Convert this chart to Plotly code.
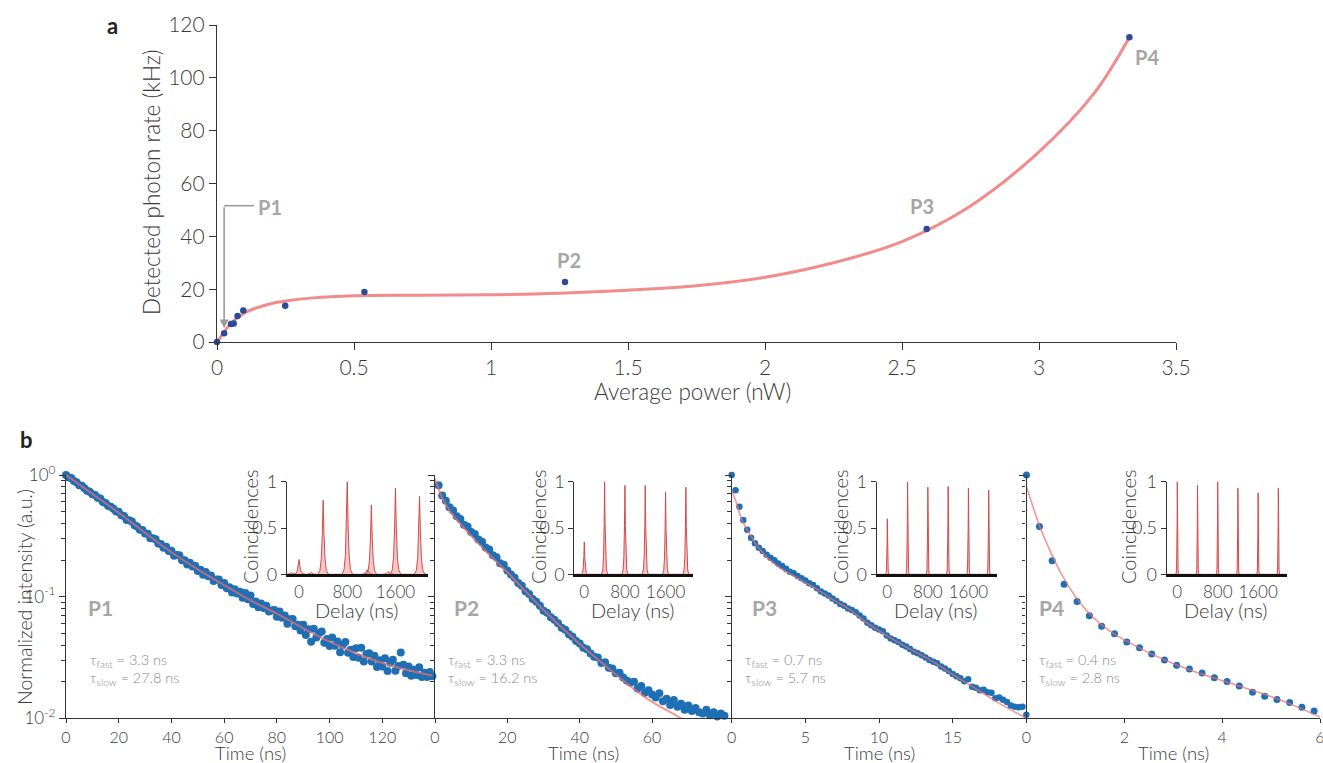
import numpy as np
import plotly.graph_objects as go

# ---------------- Panel a: detected photon rate vs average power ----------------
power_nw = [0.0, 0.026, 0.051, 0.061, 0.075, 0.096, 0.249, 0.538, 1.27, 2.59, 3.33]
rate_khz = [0.0, 3.3, 6.8, 7.0, 9.8, 11.9, 13.7, 18.9, 22.7, 42.8, 115.4]
fit_power_nw = [0, 0.025, 0.05, 0.1, 0.15, 0.2, 0.25, 0.35, 0.5, 0.75, 1.0, 1.25, 1.5,
                1.75, 2.0, 2.25, 2.5, 2.75, 3.0, 3.2, 3.33]
fit_rate_khz = [0, 3.6, 7.0, 11.0, 13.1, 14.6, 15.5, 16.7, 17.5, 17.7, 17.9, 18.5, 19.6,
                21.3, 24.5, 30.0, 38.0, 51.5, 72.0, 94.0, 115.4]
power_ticks = [0, 0.5, 1, 1.5, 2, 2.5, 3, 3.5]
rate_ticks = [0, 20, 40, 60, 80, 100, 120]

# ---------------- Panel b: decays (log10 of normalized intensity) ----------------
p1_time_ns = list(range(140))
p1_log10_intensity = [
    0.0, -0.020, -0.025, -0.050, -0.060, -0.084, -0.089, -0.108, -0.129, -0.137,
    -0.159, -0.165, -0.188, -0.194, -0.222, -0.230, -0.255, -0.260, -0.277, -0.301,
    -0.302, -0.330, -0.338, -0.369, -0.372, -0.383, -0.413, -0.424, -0.450, -0.453,
    -0.481, -0.482, -0.519, -0.519, -0.528, -0.563, -0.568, -0.597, -0.589, -0.624,
    -0.623, -0.664, -0.657, -0.659, -0.701, -0.701, -0.736, -0.722, -0.753, -0.746,
    -0.789, -0.778, -0.821, -0.798, -0.832, -0.827, -0.871, -0.859, -0.859, -0.904,
    -0.887, -0.930, -0.922, -0.965, -0.940, -0.974, -0.960, -1.009, -0.970, -1.022,
    -0.990, -1.061, -1.040, -1.088, -1.056, -1.093, -1.074, -1.122, -1.113, -1.109,
    -1.165, -1.122, -1.174, -1.154, -1.223, -1.185, -1.184, -1.244, -1.231, -1.278,
    -1.230, -1.316, -1.267, -1.370, -1.264, -1.335, -1.301, -1.287, -1.378, -1.349,
    -1.405, -1.335, -1.404, -1.369, -1.458, -1.398, -1.372, -1.462, -1.436, -1.496,
    -1.425, -1.503, -1.421, -1.534, -1.472, -1.465, -1.533, -1.486, -1.579, -1.522,
    -1.575, -1.506, -1.612, -1.543, -1.519, -1.610, -1.571, -1.460, -1.560, -1.630,
    -1.575, -1.650, -1.600, -1.645, -1.580, -1.660, -1.625, -1.660, -1.620, -1.655]
p1_fit_time_ns = [0, 10, 20, 30, 40, 50, 60, 70, 80, 90, 100, 110, 120, 130, 139]
p1_fit_log10 = [0, -0.155, -0.31, -0.475, -0.635, -0.775, -0.905, -1.03, -1.14, -1.26,
                -1.37, -1.465, -1.545, -1.605, -1.65]

p2_time_ns = list(range(81))
p2_log10_intensity = [
    0.005, -0.085, -0.168, -0.212, -0.265, -0.292, -0.340, -0.362, -0.408, -0.424,
    -0.468, -0.485, -0.531, -0.548, -0.595, -0.612, -0.660, -0.676, -0.725, -0.738,
    -0.785, -0.818, -0.845, -0.888, -0.910, -0.955, -0.978, -1.020, -1.042, -1.075,
    -1.115, -1.132, -1.170, -1.190, -1.218, -1.255, -1.272, -1.310, -1.330, -1.365,
    -1.385, -1.420, -1.433, -1.468, -1.495, -1.500, -1.545, -1.540, -1.585, -1.590,
    -1.630, -1.625, -1.665, -1.690, -1.705, -1.700, -1.755, -1.735, -1.790, -1.770,
    -1.805, -1.830, -1.795, -1.860, -1.840, -1.890, -1.850, -1.905, -1.880, -1.930,
    -1.895, -1.940, -1.915, -1.950, -1.960, -1.930, -1.975, -1.950, -1.985, -1.960,
    -1.980]
p2_fit_time_ns = [0, 2, 5, 10, 15, 20, 25, 30, 40, 50, 55, 60, 65, 68]
p2_fit_log10 = [-0.03, -0.19, -0.33, -0.50, -0.655, -0.80, -0.955, -1.11, -1.39, -1.64,
                -1.76, -1.865, -1.95, -2.0]

p3_time_step_ns = 0.263
p3_log10_intensity = [
    0.0, -0.125, -0.262, -0.37, -0.45, -0.515, -0.562, -0.598, -0.625, -0.655,
    -0.68, -0.70, -0.728, -0.748, -0.77, -0.795, -0.808, -0.83, -0.848, -0.868,
    -0.89, -0.905, -0.93, -0.958, -0.975, -0.99, -1.015, -1.035, -1.06, -1.075,
    -1.098, -1.11, -1.128, -1.155, -1.18, -1.215, -1.235, -1.255, -1.27, -1.285,
    -1.32, -1.345, -1.358, -1.372, -1.395, -1.41, -1.43, -1.452, -1.465, -1.482,
    -1.50, -1.52, -1.535, -1.548, -1.575, -1.59, -1.612, -1.635, -1.655, -1.67,
    -1.695, -1.678, -1.74, -1.748, -1.77, -1.765, -1.785, -1.79, -1.835, -1.83,
    -1.848, -1.865, -1.895, -1.905, -1.91, -1.905, -1.97]
p3_time_ns = [round(p3_time_step_ns * k, 3) for k in range(len(p3_log10_intensity))]
p3_fit_time_ns = [0, 0.3, 0.6, 0.9, 1.2, 1.6, 2, 3, 4, 5, 6, 7, 8, 9, 10, 11, 12, 13,
                  14, 15, 16, 17, 18, 19, 20]
p3_fit_log10 = [-0.13, -0.22, -0.34, -0.42, -0.48, -0.56, -0.625, -0.74, -0.815, -0.885,
                -0.955, -1.035, -1.105, -1.2, -1.28, -1.355, -1.425, -1.49, -1.56, -1.64,
                -1.715, -1.79, -1.865, -1.935, -2.0]

p4_time_ns = [0, 0.265, 0.524, 0.769, 1.034, 1.286, 1.537, 1.80, 2.05, 2.31, 2.56, 2.82,
              3.07, 3.33, 3.59, 3.84, 4.10, 4.35, 4.62, 4.87, 5.12, 5.38, 5.63, 5.88]
p4_log10_intensity = [0.0, -0.424, -0.704, -0.898, -1.04, -1.156, -1.244, -1.304, -1.372,
                      -1.421, -1.471, -1.52, -1.564, -1.594, -1.627, -1.666, -1.698, -1.734,
                      -1.786, -1.818, -1.846, -1.871, -1.909, -1.939]
p4_fit_time_ns = [0, 0.25, 0.5, 0.75, 1, 1.25, 1.5, 1.75, 2, 2.5, 3, 3.5, 4, 4.5, 5, 5.5, 6]
p4_fit_log10 = [-0.096, -0.40, -0.64, -0.84, -1.0, -1.125, -1.22, -1.295, -1.355, -1.46,
                -1.55, -1.625, -1.69, -1.755, -1.82, -1.90, -1.99]

tau_fast_ns = [3.3, 3.3, 0.7, 0.4]
tau_slow_ns = [27.8, 16.2, 5.7, 2.8]
panel_names = ["P1", "P2", "P3", "P4"]
time_ranges = [[0, 140], [0, 82], [0, 20], [0, 6]]
time_ticks = [[0, 20, 40, 60, 80, 100, 120], [0, 20, 40, 60], [0, 5, 10, 15], [0, 2, 4, 6]]

# ---------------- Insets: coincidence histograms ----------------
peak_delay_ns = [0, 400, 800, 1200, 1600, 2000]
p1_peak_heights = [0.16, 0.80, 1.0, 0.75, 0.93, 0.84]
p2_peak_heights = [0.35, 1.0, 0.96, 0.96, 0.89, 0.94]
p3_peak_heights = [0.60, 1.0, 0.94, 0.95, 0.93, 0.91]
p4_peak_heights = [1.0, 0.96, 1.0, 0.93, 0.88, 0.93]
p1_bump_delay_ns = [-130, 200, 1130, 1480]
p1_bump_heights = [0.02, 0.02, 0.05, 0.03]
delay_ticks = [0, 800, 1600]
coinc_ticks = [0, 0.5, 1]

# ---------------- style / layout constants ----------------
W, H = 1323, 763
FONT = "Lato"
TXT = "#3a3a3a"
AX = "#333333"
GREY = "#a6a6a6"
BLUE_A = "#2d4b9b"
BLUE_B = "#1f6fb5"
FIT_A = "#f28b8b"
FIT_B = "rgba(238,110,110,0.72)"
PEAK_LINE = "#d24a4a"
PEAK_FILL = "rgba(232,128,128,0.45)"
PEAK_OFFSETS = [-1, -0.6, -0.35, -0.15, 0, 0.15, 0.35, 0.6, 1]
PEAK_RATIOS = [0, 0.05, 0.2, 0.55, 1, 0.55, 0.2, 0.05, 0]
peak_widths = [90, 60, 30, 25]


def fx(px):
    return px / W


def fy(py):
    return 1 - py / H


def peaks_xy(centers, heights, width, xr):
    xs, ys = [xr[0]], [0]
    for c, h in sorted(zip(centers, heights)):
        for o, r in zip(PEAK_OFFSETS, PEAK_RATIOS):
            xs.append(c + o * width)
            ys.append(h * r)
    xs.append(xr[1])
    ys.append(0)
    return xs, ys


fig = go.Figure()

# panel a
fig.add_trace(go.Scatter(x=fit_power_nw, y=fit_rate_khz, mode="lines",
                         line=dict(color=FIT_A, width=3, shape="spline", smoothing=1.0),
                         xaxis="x", yaxis="y", cliponaxis=False, showlegend=False))
fig.add_trace(go.Scatter(x=power_nw, y=rate_khz, mode="markers",
                         marker=dict(color=BLUE_A, size=6.5),
                         xaxis="x", yaxis="y", cliponaxis=False, showlegend=False))

# panel b main decays
decay_t = [p1_time_ns, p2_time_ns, p3_time_ns, p4_time_ns]
decay_l = [p1_log10_intensity, p2_log10_intensity, p3_log10_intensity, p4_log10_intensity]
fit_t = [p1_fit_time_ns, p2_fit_time_ns, p3_fit_time_ns, p4_fit_time_ns]
fit_l = [p1_fit_log10, p2_fit_log10, p3_fit_log10, p4_fit_log10]
msize = [8, 8, 6.5, 7]
fitw = [2, 2, 1.6, 1.6]
for i in range(4):
    xa, ya = "x%d" % (i + 2), "y%d" % (i + 2)
    fig.add_trace(go.Scatter(x=decay_t[i], y=np.power(10.0, decay_l[i]), mode="markers",
                             marker=dict(color=BLUE_B, size=msize[i]),
                             xaxis=xa, yaxis=ya, cliponaxis=False, showlegend=False))
    fig.add_trace(go.Scatter(x=fit_t[i], y=np.power(10.0, fit_l[i]), mode="lines",
                             line=dict(color=FIT_B, width=fitw[i], shape="spline", smoothing=0.6),
                             xaxis=xa, yaxis=ya, cliponaxis=True, showlegend=False))

# insets
inset_heights = [p1_peak_heights, p2_peak_heights, p3_peak_heights, p4_peak_heights]
inset_ranges = [[-200, 2140], [-197, 2146], [-209, 2158], [-210, 2166]]
for i in range(4):
    xa, ya = "x%d" % (i + 6), "y%d" % (i + 6)
    cs = list(peak_delay_ns)
    hs = list(inset_heights[i])
    if i == 0:
        cs += p1_bump_delay_ns
        hs += p1_bump_heights
    xs, ys = peaks_xy(cs, hs, peak_widths[i], inset_ranges[i])
    fig.add_trace(go.Scatter(x=xs, y=ys, mode="lines", fill="tozeroy", fillcolor=PEAK_FILL,
                             line=dict(color=PEAK_LINE, width=1),
                             xaxis=xa, yaxis=ya, cliponaxis=False, showlegend=False))

axis_base = dict(showline=True, linecolor=AX, linewidth=1.2, ticks="outside", tickcolor=AX,
                 tickwidth=1.2, showgrid=False, zeroline=False, automargin=False,
                 fixedrange=True, ticklabeloverflow="allow")

layout = dict(
    width=W, height=H, autosize=False,
    margin=dict(l=0, r=0, t=0, b=0, pad=0),
    paper_bgcolor="white", plot_bgcolor="rgba(0,0,0,0)",
    font=dict(family=FONT, color=TXT, size=16, weight=300),
    template="none",
    showlegend=False,
)

# panel a axes
layout["xaxis"] = dict(axis_base, domain=[fx(217), fx(1176)], range=[0, 3.5], anchor="y",
                       tickmode="array", tickvals=power_ticks, ticklen=7,
                       tickfont=dict(size=21, color=TXT))
layout["yaxis"] = dict(axis_base, domain=[fy(342), fy(25)], range=[0, 120], anchor="x",
                       tickmode="array", tickvals=rate_ticks, ticklen=7,
                       tickfont=dict(size=21, color=TXT))

# panel b axes
xdom_px = [(66, 435), (435, 731.7), (731.7, 1026.5), (1026.5, 1320)]
minor_vals = [0.02, 0.03, 0.04, 0.05, 0.06, 0.07, 0.08, 0.09,
              0.2, 0.3, 0.4, 0.5, 0.6, 0.7, 0.8, 0.9]
for i in range(4):
    xk, yk = "xaxis%d" % (i + 2), "yaxis%d" % (i + 2)
    layout[xk] = dict(axis_base, domain=[fx(xdom_px[i][0]), fx(xdom_px[i][1])],
                      range=time_ranges[i], anchor="y%d" % (i + 2), tickmode="array",
                      tickvals=time_ticks[i], ticklen=4, tickfont=dict(size=16, color=TXT))
    layout[yk] = dict(axis_base, domain=[fy(718.3), fy(475)], type="log", range=[-2, 0],
                      anchor="x%d" % (i + 2), tickmode="array", tickvals=[0.01, 0.1, 1],
                      ticktext=["10<sup>-2</sup>", "10<sup>-1</sup>", "10<sup>0</sup>"],
                      ticklen=6, showticklabels=(i == 0), tickfont=dict(size=17, color=TXT),
                      minor=dict(tickmode="array", tickvals=minor_vals, ticks="outside",
                                 ticklen=3.5, tickcolor=AX, tickwidth=1, showgrid=False))

# inset axes
inset_px = [(287, 428), (574.3, 693.3), (876.7, 996.7), (1166.7, 1286.7)]
for i in range(4):
    xk, yk = "xaxis%d" % (i + 6), "yaxis%d" % (i + 6)
    layout[xk] = dict(axis_base, domain=[fx(inset_px[i][0]), fx(inset_px[i][1])],
                      range=inset_ranges[i], anchor="y%d" % (i + 6), tickmode="array",
                      tickvals=delay_ticks, ticks="", linewidth=2.6, linecolor="#111",
                      tickfont=dict(size=17, color=TXT))
    layout[yk] = dict(axis_base, domain=[fy(574.3), fy(481.7)], range=[0, 1],
                      anchor="x%d" % (i + 6), tickmode="array", tickvals=coinc_ticks,
                      ticktext=["0", "0.5", "1"], ticklen=5, tickfont=dict(size=18, color=TXT))

fig.update_layout(**layout)

ann = []


def txt(x, y, s, size, color=TXT, angle=0, bold=False, xanchor="center", yanchor="middle"):
    ann.append(dict(xref="paper", yref="paper", x=fx(x), y=fy(y), text=s, showarrow=False,
                    textangle=angle, xanchor=xanchor, yanchor=yanchor,
                    font=dict(size=size, color=color, family=FONT,
                              weight=700 if bold else 300)))


# panel letters
txt(112, 25, "a", 22, "#222", bold=True)
txt(27, 440, "b", 22, "#222", bold=True)
# panel a titles
txt(151, 183, "Detected photon rate (kHz)", 22.5, angle=-90)
txt(692, 391, "Average power (nW)", 22.5)
# panel a point labels
for lbl, (x, y) in zip(["P2", "P3", "P4"], [(569, 260), (922, 206), (1147, 57)]):
    txt(x, y, lbl, 20, GREY, bold=True)
txt(270, 207, "P1", 20, GREY, bold=True)
# P1 bracket arrow (panel a)
fig.add_shape(type="line", xref="x", yref="y", x0=0.026, y0=51.6, x1=0.135, y1=51.6,
              line=dict(color="#9a9a9a", width=1.6))
ann.append(dict(xref="x", yref="y", axref="x", ayref="y", x=0.026, y=5.2, ax=0.026, ay=51.6,
                text="", showarrow=True, arrowhead=2, arrowsize=1.1, arrowwidth=1.6,
                arrowcolor="#9a9a9a"))

# panel b titles
txt(24, 597, "Normalized intensity (a.u.)", 19.5, angle=-90)
for i in range(4):
    cx = (xdom_px[i][0] + xdom_px[i][1]) / 2
    txt(cx, 753, "Time (ns)", 18.5)
# panel b labels and lifetimes
plabel_x = [100, 467, 764, 1051]
tau_x = [88, 446, 743, 1037]
for i in range(4):
    txt(plabel_x[i], 607, panel_names[i], 21, GREY, bold=True)
    txt(tau_x[i], 660, "τ<sub>fast</sub> = %.1f ns" % tau_fast_ns[i], 14.5, "#8a8a8a",
        xanchor="left")
    txt(tau_x[i], 678, "τ<sub>slow</sub> = %.1f ns" % tau_slow_ns[i], 14.5, "#8a8a8a",
        xanchor="left")
# inset titles
coinc_x = [250, 538, 840, 1128]
delay_x = [357, 633, 936, 1226]
for i in range(4):
    txt(coinc_x[i], 527, "Coincidences", 20, angle=-90)
    txt(delay_x[i], 610, "Delay (ns)", 20)

fig.update_layout(annotations=ann)
fig.write_html("out.html", config={"displayModeBar": False},
               post_script="document.body.style.margin='0px';")
